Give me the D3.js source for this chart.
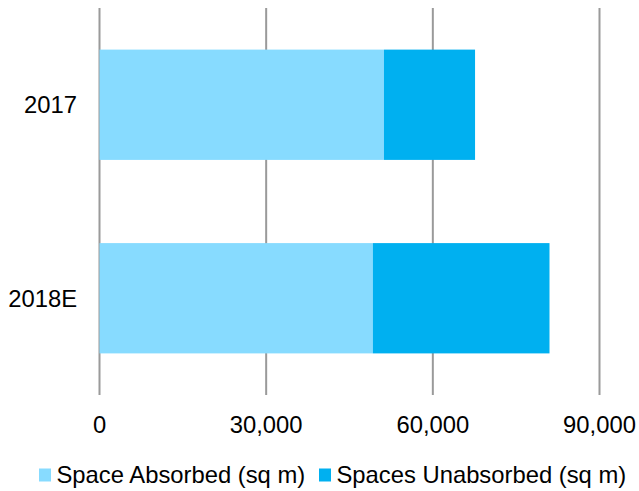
<!DOCTYPE html>
<html>
<head>
<meta charset="utf-8">
<script src="https://cdn.jsdelivr.net/npm/d3@7"></script>
<style>
  html, body { margin: 0; padding: 0; background: #fff; }
  text { font-family: "Liberation Sans", Arial, Helvetica, sans-serif; fill: #000; }
</style>
</head>
<body>
<svg id="chart" width="639" height="491"></svg>
<script>
// Categories and stacked series (square metres)
const years = ["2017", "2018E"];
const spaceAbsorbed = [51200, 49200];
const spacesUnabsorbed = [16400, 31800];
const seriesNames = ["Space Absorbed (sq m)", "Spaces Unabsorbed (sq m)"];
const seriesColors = ["#87DBFF", "#00B0F0"];
const xTicks = [0, 30000, 60000, 90000];

const svg = d3.select("#chart");
const fontSize = 23.8;

const x = d3.scaleLinear().domain([0, 90000]).range([99.5, 599.5]);
const y = d3.scaleBand().domain(years).range([8, 395]).paddingInner(0.43).paddingOuter(0.215);

// Vertical gridlines (the first one doubles as the category axis line)
svg.append("g")
  .selectAll("line")
  .data(xTicks)
  .join("line")
  .attr("x1", d => x(d)).attr("x2", d => x(d))
  .attr("y1", 8).attr("y2", 395)
  .attr("stroke", "#9a9a9a")
  .attr("stroke-width", 2);

// Stacked bars
const rows = years.map((yr, i) => ({ year: yr, a: spaceAbsorbed[i], u: spacesUnabsorbed[i] }));
const stacked = d3.stack().keys(["a", "u"])(rows);

svg.append("g")
  .selectAll("g")
  .data(stacked)
  .join("g")
  .attr("fill", (d, i) => seriesColors[i])
  .selectAll("rect")
  .data(d => d)
  .join("rect")
  .attr("x", d => x(d[0]))
  .attr("width", d => x(d[1]) - x(d[0]))
  .attr("y", d => y(d.data.year))
  .attr("height", y.bandwidth());

// Category labels
svg.append("g")
  .selectAll("text")
  .data(years)
  .join("text")
  .attr("x", 77)
  .attr("y", d => y(d) + y.bandwidth() / 2)
  .attr("dy", "0.35em")
  .attr("text-anchor", "end")
  .attr("font-size", fontSize)
  .text(d => d);

// Value axis labels
const fmt = d3.format(",");
svg.append("g")
  .selectAll("text")
  .data(xTicks)
  .join("text")
  .attr("x", d => x(d))
  .attr("y", 433)
  .attr("text-anchor", "middle")
  .attr("font-size", fontSize)
  .text(d => fmt(d));

// Legend
const legendItems = [
  { name: seriesNames[0], color: seriesColors[0], sx: 39, tx: 56.5 },
  { name: seriesNames[1], color: seriesColors[1], sx: 319, tx: 336.5 }
];
const lg = svg.append("g");
lg.selectAll("rect")
  .data(legendItems)
  .join("rect")
  .attr("x", d => d.sx)
  .attr("y", 468.5)
  .attr("width", 12)
  .attr("height", 13)
  .attr("fill", d => d.color);
lg.selectAll("text")
  .data(legendItems)
  .join("text")
  .attr("x", d => d.tx)
  .attr("y", 482.5)
  .attr("font-size", fontSize)
  .text(d => d.name);
</script>
</body>
</html>
